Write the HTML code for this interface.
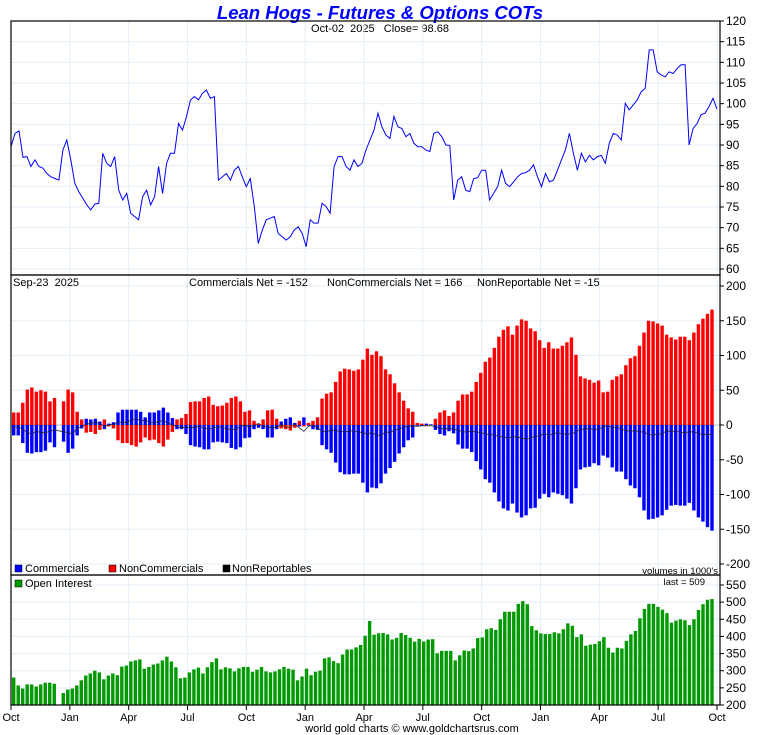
<!DOCTYPE html>
<html><head><meta charset="utf-8">
<style>
html,body{margin:0;padding:0;background:#fff;}
svg{display:block;font-family:"Liberation Sans",Arial,sans-serif;}
text{white-space:pre;}
</style></head>
<body>
<svg id="chart" width="760" height="735" viewBox="0 0 760 735" xmlns="http://www.w3.org/2000/svg">
<rect x="0" y="0" width="760" height="735" fill="#fff"/>
<text x="380" y="19" text-anchor="middle" font-size="18.5" font-weight="bold" font-style="italic" fill="#0000ff">Lean Hogs - Futures &amp; Options COTs</text>
<text x="380" y="32" text-anchor="middle" font-size="11" fill="#000" xml:space="preserve">Oct-02  2025   Close= 98.68</text>
<g id="grid"></g>
<g id="marks"></g>
<g id="frames"></g>
<text x="13" y="286" font-size="11" xml:space="preserve">Sep-23  2025</text>
<text x="189" y="286" font-size="11">Commercials Net = -152</text>
<text x="327" y="286" font-size="11">NonCommercials Net = 166</text>
<text x="477" y="286" font-size="11">NonReportable Net = -15</text>
<g font-size="11">
<rect x="15" y="565" width="7" height="7" fill="#0000ff" stroke="#000" stroke-width="0.5"/>
<text x="25" y="572">Commercials</text>
<rect x="109" y="565" width="7" height="7" fill="#ff0000" stroke="#000" stroke-width="0.5"/>
<text x="119" y="572">NonCommercials</text>
<rect x="223" y="565" width="7" height="7" fill="#000" stroke="#000" stroke-width="0.5"/>
<text x="232" y="572">NonReportables</text>
</g>
<text x="718" y="574" text-anchor="end" font-size="9.5">volumes in 1000's</text>
<rect x="15" y="580" width="7" height="7" fill="#009900" stroke="#000" stroke-width="0.5"/>
<text x="25" y="587" font-size="11">Open Interest</text>
<text x="705" y="585" text-anchor="end" font-size="9.5">last = 509</text>
<text x="412" y="732" text-anchor="middle" font-size="11">world gold charts © www.goldchartsrus.com</text>
</svg>
<script>
const priceValues = [89.6,92.8,93.4,87,87.2,84.8,86.4,84.8,84.4,83.1,82.3,81.9,81.5,88.8,91.2,86.4,80.7,78.7,77.1,75.5,74.3,75.7,75.9,88,85.6,84.8,87.2,79.1,76.7,78.3,73.5,72.7,71.9,77.5,79.1,75.5,77.5,84.8,78.3,85.6,88,88,95.2,93.6,96.9,100.9,101.7,100.9,102.5,103.3,101.3,101.7,81.5,82.3,83.1,81.5,83.9,84.8,82.3,79.9,81.9,75.1,66.2,69.4,71.9,72.3,72.7,68.6,67.8,67,67.8,69.4,70.2,68.6,65.4,71.9,71.1,71.1,75.9,75.1,73.5,84.8,87.2,87.2,84.8,83.9,86.4,84.8,85.6,88.8,91.2,93.6,97.7,94.4,92.4,91.6,96.9,94.4,94,92,92.8,90.4,89.6,89.6,88.8,88.4,92.8,93.2,92,90,89.9,76.7,81.5,82.3,79.1,78.7,81.9,82.1,83.9,83.9,76.7,78.3,79.9,83.9,80.7,79.9,81.1,82.3,83.1,83.3,83.9,85.2,82.3,79.9,83.1,81.1,81.5,83.9,86.4,88.8,92.8,88,83.9,88,85.9,87.5,86.4,87.2,87.5,85.6,90.4,92.8,92.4,91.2,100.1,98.5,99.7,100.9,102.9,103.7,113,113,107.7,106.9,106.5,107.7,107.3,108.5,109.4,109.4,90,94,95.2,97.3,97.7,99.3,101.3,98.68];
const priceTicks = [60,65,70,75,80,85,90,95,100,105,110,115,120];
const commercials = [-15,-15,-26,-40,-41,-39,-39,-37,-25,-32,null,-24,-40,-34,-15,-5,9,8,9,5,-6,2,4,18,22,22,22,22,19,11,18,18,21,25,18,10,-6,-6,-13,-29,-31,-32,-35,-35,-25,-24,-25,-26,-33,-35,-32,-19,-18,-6,-4,-6,-18,-18,-6,5,9,11,3,-2,11,-1,-6,-7,-29,-35,-40,-54,-68,-71,-71,-70,-70,-83,-97,-90,-91,-84,-70,-62,-53,-41,-32,-22,-18,-1,-1,2,1,-7,-13,-15,-9,-12,-28,-34,-34,-39,-52,-64,-78,-83,-97,-110,-120,-123,-113,-126,-133,-130,-120,-119,-106,-99,-104,-97,-99,-101,-106,-113,-91,-64,-61,-60,-55,-58,-44,-47,-61,-67,-67,-78,-87,-91,-104,-123,-136,-135,-133,-130,-122,-116,-115,-116,-116,-112,-123,-133,-139,-147,-152];
const nonCommercials = [18,18,32,51,54,48,50,48,34,39,null,34,51,47,19,8,-11,-10,-13,-7,8,-2,-5,-22,-26,-26,-29,-31,-25,-18,-22,-21,-26,-31,-21,-10,8,10,16,33,34,34,39,41,29,27,28,32,39,41,34,19,21,6,2,8,21,22,9,-5,-6,-8,-4,6,-2,3,6,11,38,45,47,62,77,81,80,78,80,94,110,101,106,99,80,73,60,47,35,24,19,3,2,-1,0,9,18,21,13,18,35,44,44,48,62,75,91,97,111,127,137,142,130,143,152,150,139,135,122,111,119,110,110,114,119,126,101,70,67,65,61,64,47,48,65,70,73,86,96,99,114,133,150,149,146,143,130,126,123,127,127,122,133,145,153,160,166];
const cotTicks = [-200,-150,-100,-50,0,50,100,150,200];
const openInterest = [280,257,248,260,260,254,260,265,265,262,null,235,245,248,257,272,286,292,300,295,275,286,292,287,312,315,327,330,333,306,311,318,321,330,341,327,310,278,280,295,304,309,292,310,325,336,304,310,307,298,307,311,311,297,303,311,298,295,298,304,311,306,303,272,283,306,287,297,300,336,339,328,322,347,362,362,368,375,402,445,405,409,410,406,391,396,410,404,396,385,393,385,391,392,351,358,358,358,330,345,359,357,365,395,397,421,424,419,450,472,472,472,495,503,494,430,418,409,407,407,412,409,421,438,431,398,406,373,376,378,386,398,367,353,367,365,387,406,416,453,480,495,495,486,478,468,440,446,450,447,433,450,477,494,507,509];
const oiTicks = [200,250,300,350,400,450,500,550];
const monthLabels = ["Oct","Jan","Apr","Jul","Oct","Jan","Apr","Jul","Oct","Jan","Apr","Jul","Oct"];

const NS = "http://www.w3.org/2000/svg";
const L = 11, R = 720;
const X0 = 11, X1 = 717;
function mk(tag, attrs, parent){const e=document.createElementNS(NS,tag);for(const k in attrs)e.setAttribute(k,attrs[k]);parent.appendChild(e);return e;}
const grid = document.getElementById('grid'), marks = document.getElementById('marks'), frames = document.getElementById('frames');
const svg = document.getElementById('chart');

const yPrice = v => 21 + (120 - v) * (248 / 60);
const yCot = v => 425 - v * (139 / 200);
const yOI = v => 705 - (v - 200) * (120 / 350);
const monthX = i => X0 + i * (X1 - X0) / (monthLabels.length - 1);
const barX = (i, n) => 13.7 + i * (712 - 13.7) / (n - 1);
const priceX = i => X0 + i * (X1 - X0) / (priceValues.length - 1);

priceTicks.forEach(t => {
  const y = yPrice(t);
  const g = mk('line',{x1:L,x2:R,y1:y,y2:y,stroke:'#e3eef8','stroke-width':1},grid);
  
  
  const tk = mk('line',{x1:R,x2:R+4,y1:y,y2:y,stroke:'#000'},frames);
  
  
  const tx = mk('text',{x:R+6,y:y+4,'font-size':12},svg);
  tx.textContent = t;
  
  
});
cotTicks.forEach(t => {
  const y = yCot(t);
  const g = mk('line',{x1:L,x2:R,y1:y,y2:y,stroke:t===0?'#bbbbbb':'#e3eef8','stroke-width':1},grid);
  
  
  const tk = mk('line',{x1:R,x2:R+4,y1:y,y2:y,stroke:'#000'},frames);
  
  
  const tx = mk('text',{x:R+6,y:y+4,'font-size':12},svg);
  tx.textContent = t;
  
  
});
oiTicks.forEach(t => {
  const y = yOI(t);
  const g = mk('line',{x1:L,x2:R,y1:y,y2:y,stroke:'#e3eef8','stroke-width':1},grid);
  
  
  const tk = mk('line',{x1:R,x2:R+4,y1:y,y2:y,stroke:'#000'},frames);
  
  
  const tx = mk('text',{x:R+6,y:y+4,'font-size':12},svg);
  tx.textContent = t;
  
  
});
monthLabels.forEach((m,i) => {
  const x = monthX(i);
  const g = mk('line',{x1:x,x2:x,y1:21,y2:705,stroke:'#e3eef8','stroke-width':1},grid);
  
  
  const tk = mk('line',{x1:x,x2:x,y1:705,y2:710,stroke:'#000'},frames);
  
  
  const tx = mk('text',{x:x,y:721,'font-size':11,'text-anchor':'middle'},svg);
  tx.textContent = m;
  
  
});

let d = '';
priceValues.forEach((v,i) => { d += (i?'L':'M') + priceX(i).toFixed(1) + ' ' + yPrice(v).toFixed(1) + ' '; });
const pl = mk('path',{d:d,fill:'none',stroke:'#0000ff','stroke-width':1},marks);



const BW = 3.4;
const nC = commercials.length;
commercials.forEach((v,i) => {
  if (v === null) return;
  const x = barX(i,nC) - BW/2, y0 = yCot(0), y1 = yCot(v);
  const b = mk('rect',{x:x,y:Math.min(y0,y1),width:BW,height:Math.abs(y1-y0),fill:'#0000ff'},marks);
  
  
});
nonCommercials.forEach((v,i) => {
  if (v === null) return;
  const x = barX(i,nC) - BW/2, y0 = yCot(0), y1 = yCot(v);
  const b = mk('rect',{x:x,y:Math.min(y0,y1),width:BW,height:Math.abs(y1-y0),fill:'#ff0000'},marks);
  
  
});
let nd = '', started = false;
commercials.forEach((v,i) => {
  if (v === null) return;
  const nr = -(v + nonCommercials[i]);
  nd += (started?'L':'M') + barX(i,nC).toFixed(1) + ' ' + yCot(nr).toFixed(1) + ' ';
  started = true;
});
const nl = mk('path',{d:nd,fill:'none',stroke:'#222','stroke-width':1,opacity:0.8},marks);



const nO = openInterest.length;
openInterest.forEach((v,i) => {
  if (v === null) return;
  const x = barX(i,nO) - BW/2, y0 = yOI(200), y1 = yOI(v);
  const b = mk('rect',{x:x,y:y1,width:BW,height:y0-y1,fill:'#009900'},marks);
  
  
});

[[21,275,'price-panel'],[275,575,'cot-panel'],[575,705,'oi-panel']].forEach(p => {
  const r = mk('rect',{x:L,y:p[0],width:R-L,height:p[1]-p[0],fill:'none',stroke:'#000','stroke-width':1.2},frames);
  
  
});
</script>
</body></html>
